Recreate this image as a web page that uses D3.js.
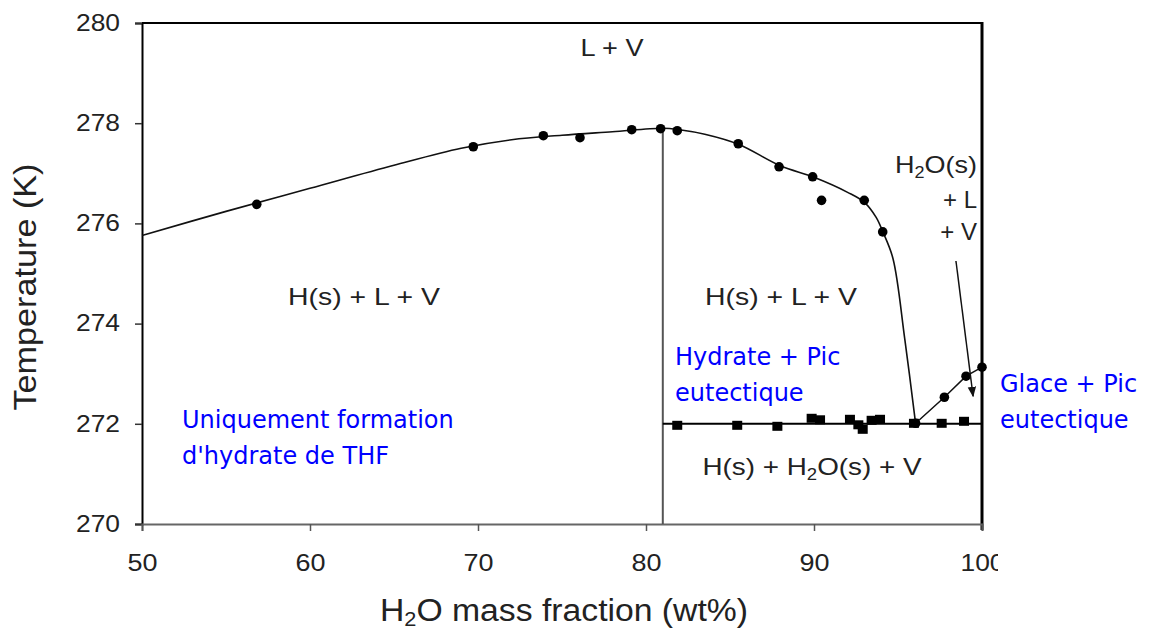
<!DOCTYPE html>
<html><head><meta charset="utf-8">
<script src="https://cdn.jsdelivr.net/npm/d3@7"></script>
<style>
html,body{margin:0;padding:0;background:#fff;}
svg{display:block;}
</style></head>
<body>
<svg id="chart" width="1166" height="631"></svg>
<script>
// ---------- data ----------
const xTicks = [50, 60, 70, 80, 90, 100];
const yTicks = [270, 272, 274, 276, 278, 280];

// measured liquidus points (hydrate side), circles
const liqX = [56.83, 69.72, 73.89, 76.07, 79.15, 80.87, 81.86, 85.49, 87.92, 89.92, 90.45, 92.99, 94.09];
const liqT = [276.38, 277.53, 277.75, 277.71, 277.87, 277.89, 277.85, 277.59, 277.13, 276.93, 276.46, 276.46, 275.83];

// fitted liquidus curve
const fitX = [50, 55, 60, 65, 69, 72, 75, 78, 81, 82, 83.5, 85.5, 88, 90, 92, 93, 93.7, 94.1, 94.7, 95.4, 96.05];
const fitT = [275.76, 276.24, 276.7, 277.16, 277.5, 277.67, 277.76, 277.83, 277.9, 277.87, 277.78, 277.58, 277.15, 276.92, 276.62, 276.42, 276.12, 275.83, 275.3, 273.7, 272.0];

// ice branch (circles joined by segments)
const iceX = [96.05, 97.76, 99.05, 100.0];
const iceT = [272.01, 272.53, 272.95, 273.13];

// eutectic measurements, squares
const eutX = [81.86, 85.43, 87.82, 89.86, 90.36, 92.14, 92.64, 92.9, 93.43, 93.93, 95.95, 97.6, 98.93];
const eutT = [271.97, 271.97, 271.95, 272.11, 272.08, 272.09, 271.98, 271.89, 272.07, 272.09, 272.01, 272.01, 272.05];

const eutecticT = 272.0;
const hydrateX = 81;
const hydrateTopT = 277.9;

// ---------- layout ----------
const svg = d3.select("#chart");
const x = d3.scaleLinear().domain([50, 100]).range([142, 982]);
const y = d3.scaleLinear().domain([270, 280]).range([524, 23]);
const AR = "Liberation Sans, Arial, sans-serif";
const BL = "DejaVu Sans, Verdana, sans-serif";
const defs = svg.append("defs");

// plot frame
svg.append("line").attr("x1", x(50)).attr("x2", x(100)).attr("y1", y(280)).attr("y2", y(280))
  .attr("stroke", "#000").attr("stroke-width", 2);
svg.append("line").attr("x1", x(100)).attr("x2", x(100)).attr("y1", y(280) - 1).attr("y2", y(270) + 6)
  .attr("stroke", "#000").attr("stroke-width", 3);

// axes
const yAxis = d3.axisLeft(y).tickValues(yTicks).tickSize(7).tickFormat(d3.format("d"));
const gy = svg.append("g").attr("transform", `translate(${x(50)},0)`).call(yAxis);
gy.select(".domain").attr("stroke", "#000").attr("stroke-width", 2);
gy.selectAll(".tick line").attr("stroke", "#333").attr("stroke-width", 1.5);
gy.selectAll(".tick text").attr("font-family", AR).attr("font-size", 23).attr("fill", "#222")
  .attr("x", -22).attr("textLength", 44).attr("lengthAdjust", "spacingAndGlyphs");

// clip for the x axis (the "100" label is cut in the reference)
defs.append("clipPath").attr("id", "xclip")
  .append("rect").attr("x", 0).attr("y", -600).attr("width", 998).attr("height", 1200);

const xAxis = d3.axisBottom(x).tickValues(xTicks).tickSize(7).tickFormat(d3.format("d"));
const gx = svg.append("g").attr("transform", `translate(0,${y(270)})`)
  .attr("clip-path", "url(#xclip)").call(xAxis);
gx.select(".domain").attr("stroke", "#666").attr("stroke-width", 2);
gx.selectAll(".tick line").attr("stroke", "#555").attr("stroke-width", 1.5);
gx.selectAll(".tick text").attr("font-family", AR).attr("font-size", 23).attr("fill", "#222")
  .attr("y", 31)
  .attr("textLength", d => d === 100 ? 44 : 30).attr("lengthAdjust", "spacingAndGlyphs");

// axis titles
const xt = svg.append("text").attr("x", 564).attr("y", 621).attr("text-anchor", "middle")
  .attr("font-family", AR).attr("font-size", 31).attr("fill", "#222")
  .attr("textLength", 368).attr("lengthAdjust", "spacingAndGlyphs");
xt.append("tspan").text("H");
xt.append("tspan").attr("font-size", 20).attr("dy", 5).text("2");
xt.append("tspan").attr("dy", -5).text("O mass fraction (wt%)");

svg.append("text").attr("transform", "translate(36,287) rotate(-90)").attr("text-anchor", "middle")
  .attr("font-family", AR).attr("font-size", 31).attr("fill", "#222")
  .attr("textLength", 247).attr("lengthAdjust", "spacingAndGlyphs")
  .text("Temperature (K)");

// hydrate vertical line and eutectic line
svg.append("line").attr("x1", x(hydrateX)).attr("x2", x(hydrateX)).attr("y1", y(hydrateTopT)).attr("y2", y(270))
  .attr("stroke", "#555").attr("stroke-width", 2);
svg.append("line").attr("x1", x(hydrateX)).attr("x2", x(100)).attr("y1", y(eutecticT)).attr("y2", y(eutecticT))
  .attr("stroke", "#000").attr("stroke-width", 2);

// fitted curve
const fit = fitX.map((d, i) => [d, fitT[i]]);
svg.append("path").datum(fit)
  .attr("d", d3.line().x(d => x(d[0])).y(d => y(d[1])).curve(d3.curveCatmullRom.alpha(0.5)))
  .attr("fill", "none").attr("stroke", "#111").attr("stroke-width", 1.6);

// ice branch
const ice = iceX.map((d, i) => [d, iceT[i]]);
svg.append("path").datum(ice)
  .attr("d", d3.line().x(d => x(d[0])).y(d => y(d[1])))
  .attr("fill", "none").attr("stroke", "#111").attr("stroke-width", 1.5);

// points
svg.append("g").selectAll("circle").data(liqX.map((d, i) => [d, liqT[i]])).join("circle")
  .attr("cx", d => x(d[0])).attr("cy", d => y(d[1])).attr("r", 4.8).attr("fill", "#000");
svg.append("g").selectAll("circle").data(ice).join("circle")
  .attr("cx", d => x(d[0])).attr("cy", d => y(d[1])).attr("r", 4.8).attr("fill", "#000");
svg.append("g").selectAll("rect").data(eutX.map((d, i) => [d, eutT[i]])).join("rect")
  .attr("x", d => x(d[0]) - 5).attr("y", d => y(d[1]) - 4.5).attr("width", 10).attr("height", 9)
  .attr("fill", "#000");

// arrow
defs.append("marker").attr("id", "arr").attr("viewBox", "0 0 10 10").attr("refX", 9).attr("refY", 5)
  .attr("markerWidth", 7).attr("markerHeight", 7).attr("orient", "auto-start-reverse")
  .append("path").attr("d", "M0,1 L10,5 L0,9 Z").attr("fill", "#111");
svg.append("line").attr("x1", x(98.45)).attr("y1", y(275.25)).attr("x2", x(99.47)).attr("y2", y(272.55))
  .attr("stroke", "#111").attr("stroke-width", 1.5).attr("marker-end", "url(#arr)");

// region labels (black)
function blk(tx, ty, anchor, len, parts) {
  const t = svg.append("text").attr("x", tx).attr("y", ty).attr("text-anchor", anchor)
    .attr("font-family", AR).attr("font-size", 24).attr("fill", "#222");
  if (len) t.attr("textLength", len).attr("lengthAdjust", "spacingAndGlyphs");
  parts.forEach(p => {
    const s = t.append("tspan").text(p.t);
    if (p.sub) s.attr("font-size", 16).attr("dy", 5);
    if (p.up) s.attr("dy", -5);
  });
  return t;
}
blk(612, 56, "middle", 63, [{t: "L + V"}]);
blk(364, 305, "middle", 152, [{t: "H(s) + L + V"}]);
blk(781, 305, "middle", 152, [{t: "H(s) + L + V"}]);
blk(812, 475, "middle", 219, [{t: "H(s) + H"}, {t: "2", sub: true}, {t: "O(s) + V", up: true}]);
blk(977, 173, "end", 82, [{t: "H"}, {t: "2", sub: true}, {t: "O(s)", up: true}]);
blk(977, 208, "end", null, [{t: "+ L"}]);
blk(977, 240, "end", null, [{t: "+ V"}]);

// blue annotations
function blue(tx, ty, lines) {
  lines.forEach((l, i) => {
    svg.append("text").attr("x", tx).attr("y", ty + i * 36)
      .attr("font-family", BL).attr("font-size", 24).attr("fill", "#0000ff").text(l);
  });
}
blue(675, 365, ["Hydrate + Pic", "eutectique"]);
blue(1000, 392, ["Glace + Pic", "eutectique"]);
blue(182, 428, ["Uniquement formation", "d'hydrate de THF"]);
</script>
</body></html>
